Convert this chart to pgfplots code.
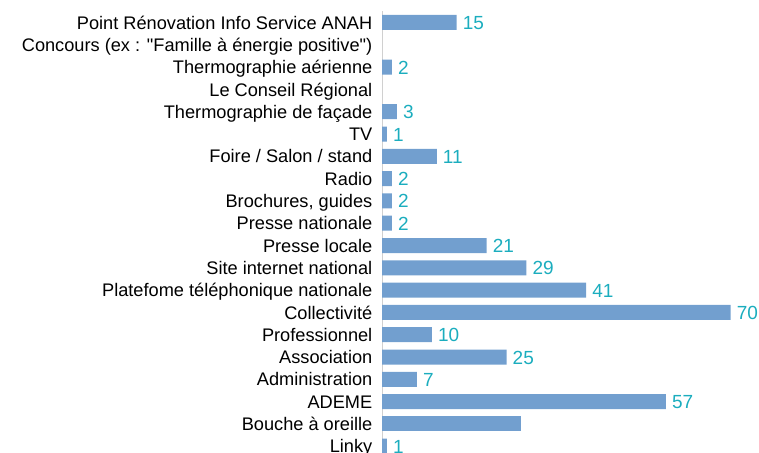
\documentclass[border=0pt]{standalone}
\usepackage{fontspec}
\setmainfont{Liberation Sans}
\usepackage{pgfplots}
\pgfplotsset{compat=1.18}

\definecolor{barblue}{RGB}{114,159,207}
\definecolor{valteal}{RGB}{27,173,190}
\definecolor{axisgray}{RGB}{208,208,208}

\begin{document}
\begin{tikzpicture}
  \useasboundingbox (0pt,0pt) rectangle (759pt,452pt);
  \clip (0pt,0pt) rectangle (759pt,452pt);
  \begin{axis}[
      at={(382pt,440.65pt)}, anchor=north west,
      x=4.98pt, y=22.3pt, y dir=reverse,
      xmin=0, xmax=75, ymin=-0.5, ymax=19.5,
      axis x line=none, axis y line*=left,
      axis line style={-, draw=axisgray, line width=1pt},
      xbar, bar width=15pt, bar shift=0pt,
      ytick={0,...,19}, major tick length=0pt,
      yticklabels={
        Point Rénovation Info Service ANAH,
        {Concours (ex : \textquotedbl Famille à énergie positive\textquotedbl)},
        Thermographie aérienne,
        Le Conseil Régional,
        Thermographie de façade,
        TV,
        Foire / Salon / stand,
        Radio,
        {Brochures, guides},
        Presse nationale,
        Presse locale,
        Site internet national,
        Platefome téléphonique nationale,
        Collectivité,
        Professionnel,
        Association,
        Administration,
        ADEME,
        Bouche à oreille,
        Linky},
      yticklabel style={font=\fontsize{18.2}{20}\selectfont, text=black,
        inner sep=0pt, anchor=base east, xshift=-9.5pt, yshift=-6.6pt},
      /pgf/number format/assume math mode=true,
      clip=false]
    % bars with value labels
    \addplot [fill=barblue, draw=none,
      nodes near coords,
      nodes near coords style={font=\fontsize{19}{21}\selectfont, text=valteal,
        inner sep=0pt, anchor=base west, xshift=6pt, yshift=-7pt}]
      coordinates {
        (15,0) (2,2) (3,4) (1,5) (11,6) (2,7) (2,8) (2,9)
        (21,10) (29,11) (41,12) (70,13) (10,14) (25,15) (7,16)
        (57,17) (1,19)
      };
    % bar without label
    \addplot [fill=barblue, draw=none] coordinates { (28,18) };
  \end{axis}
\end{tikzpicture}
\end{document}
